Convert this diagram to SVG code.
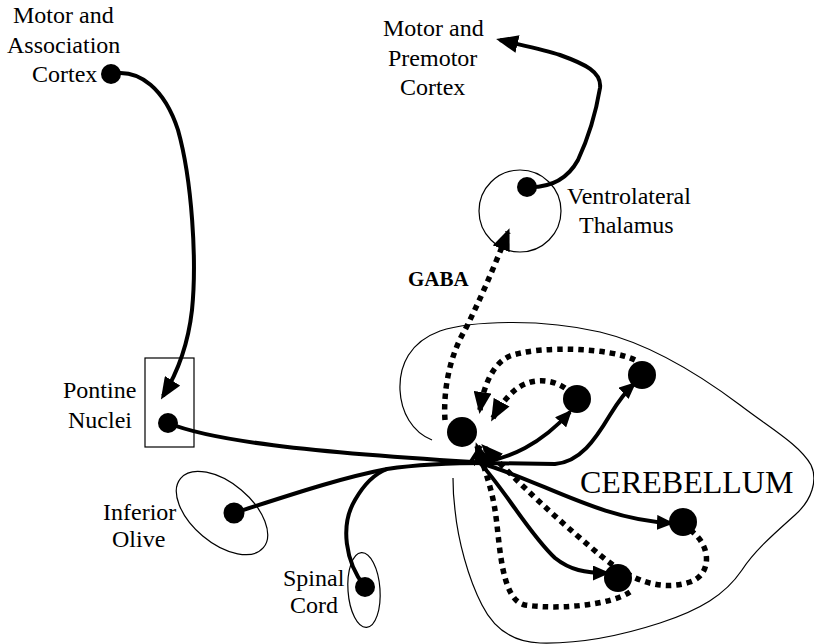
<svg xmlns="http://www.w3.org/2000/svg" width="814" height="644" viewBox="0 0 814 644">
<style>
  text { font-family: "Liberation Serif", "Times New Roman", serif; font-size: 24px; fill: #000; }
  .big { font-size: 32px; }
  .bold { font-weight: bold; font-size: 21px; }
  .outline { fill: none; stroke: #000; stroke-width: 1.2; }
  .solid { fill: none; stroke: #000; stroke-width: 4; }
  .dotted { fill: none; stroke: #000; stroke-width: 5.5; stroke-dasharray: 5.5 5; }
  .dot { fill: #000; }
</style>
<defs>
  <marker id="ah" markerUnits="userSpaceOnUse" markerWidth="22" markerHeight="18" refX="18" refY="9" orient="auto">
    <path d="M0,0 L22,9 L0,18 z" fill="#000"/>
  </marker>
  <marker id="as" markerUnits="userSpaceOnUse" markerWidth="17" markerHeight="15" refX="14" refY="7.5" orient="auto">
    <path d="M0,0 L17,7.5 L0,15 z" fill="#000"/>
  </marker>
</defs>
<rect width="814" height="644" fill="#fff"/>

<g id="node-cerebellum">
  <path class="outline" d="M432,440 C412,432 401,412 400,390 C399,365 410,342 440,331 C470,321 540,318 600,332 C650,344 700,375 740,405 C770,428 800,445 811,465 C818,480 812,500 795,515 C775,533 755,550 742,570 C725,595 700,610 660,623 C620,636 580,644 540,643 C510,642 492,625 482,605 C468,578 458,540 455,510 C453,495 453,485 453,478"/>
  <text class="big" x="580" y="493">CEREBELLUM</text>
</g>

<g id="node-motor-association-cortex">
  <text x="13" y="23">Motor and</text>
  <text x="7" y="53">Association</text>
  <text x="32" y="82">Cortex</text>
  <circle class="dot" cx="111" cy="74" r="10"/>
</g>

<g id="node-motor-premotor-cortex">
  <text x="383" y="36">Motor and</text>
  <text x="388" y="66">Premotor</text>
  <text x="400" y="95">Cortex</text>
</g>

<g id="node-thalamus">
  <circle class="outline" cx="520" cy="211" r="41"/>
  <circle class="dot" cx="527" cy="187" r="10"/>
  <text x="567" y="204">Ventrolateral</text>
  <text x="579" y="233">Thalamus</text>
</g>

<g id="node-pontine">
  <rect class="outline" x="145" y="358" width="49" height="89"/>
  <circle class="dot" cx="168" cy="423" r="10"/>
  <text x="63" y="398">Pontine</text>
  <text x="68" y="428">Nuclei</text>
</g>

<g id="node-olive">
  <ellipse class="outline" cx="222" cy="513" rx="54" ry="30" transform="rotate(40 222 513)"/>
  <circle class="dot" cx="234" cy="513" r="10.5"/>
  <text x="103" y="520">Inferior</text>
  <text x="112" y="547">Olive</text>
</g>

<g id="node-spinal">
  <ellipse class="outline" cx="364" cy="590" rx="16" ry="37.5" transform="rotate(-4 364 590)"/>
  <circle class="dot" cx="365" cy="587" r="10"/>
  <text x="283" y="586">Spinal</text>
  <text x="290" y="613">Cord</text>
</g>

<g id="connectors">
  <path class="solid" marker-end="url(#ah)" d="M111,74 C140,68 165,90 178,130 C192,180 197,260 192,310 C188,345 178,372 163,396"/>
  <path class="solid" marker-end="url(#ah)" d="M527,187 C550,188 567,180 578,160 C592,130 598,100 600,88 C602,72 585,64 560,55 C545,50 530,47 500,40"/>
  <path class="solid" d="M168,423 C210,440 300,452 490,463"/>
  <path class="solid" d="M234,513 C290,495 340,478 387,469 C420,464 450,463 490,463"/>
  <path class="solid" d="M365,587 C345,562 340,525 355,500 C363,486 374,474 387,469"/>
  <path class="solid" marker-end="url(#as)" d="M480,463 C510,458 540,445 570,412"/>
  <path class="solid" marker-end="url(#as)" d="M480,463 L555,464 C580,462 595,440 610,415 C618,402 625,392 634,384"/>
  <path class="solid" marker-end="url(#as)" d="M480,463 C540,480 600,520 671,523"/>
  <path class="solid" marker-end="url(#as)" d="M480,463 C505,490 530,535 555,558 C570,570 585,573 607,573"/>
  <path class="solid" d="M470,463 L481,446"/>
  <path class="dotted" marker-end="url(#ah)" d="M445,420 C443,390 450,355 465,330 C480,300 492,272 508,232"/>
  <path class="dotted" marker-end="url(#ah)" d="M635,360 C610,348 540,345 510,356 C495,362 484,382 480,410"/>
  <path class="dotted" marker-end="url(#ah)" d="M565,388 C550,378 530,378 515,390 C506,398 499,407 493,418"/>
  <path class="dotted" marker-end="url(#ah)" d="M690,530 C712,545 712,575 690,582 C660,592 630,580 600,555 C570,530 530,495 484,447"/>
  <path class="dotted" marker-end="url(#ah)" d="M630,592 C610,605 560,610 525,605 C500,600 500,540 495,510 C492,490 485,470 477,446"/>
  <text class="bold" x="408" y="286">GABA</text>
</g>

<g id="node-deep-nucleus"><circle class="dot" cx="462" cy="432" r="15"/></g>
<g id="node-purkinje-1"><circle class="dot" cx="577" cy="399" r="14"/></g>
<g id="node-purkinje-2"><circle class="dot" cx="642" cy="375" r="14"/></g>
<g id="node-purkinje-3"><circle class="dot" cx="683" cy="522" r="14"/></g>
<g id="node-purkinje-4"><circle class="dot" cx="618" cy="578" r="14"/></g>
</svg>
